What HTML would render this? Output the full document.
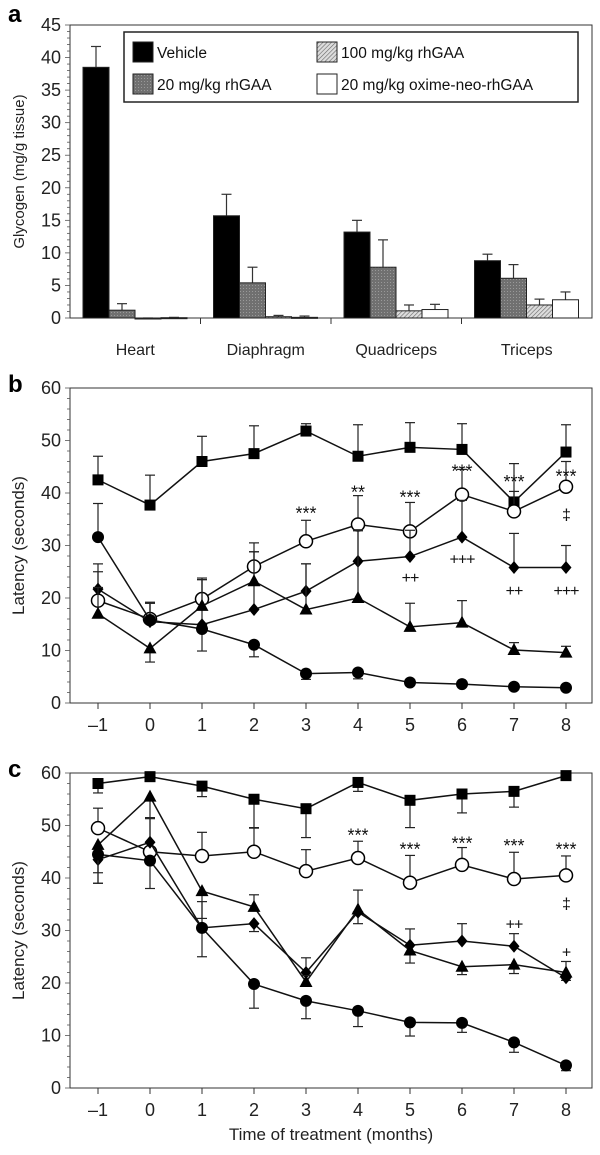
<!DOCTYPE html>
<html><head><meta charset="utf-8"><style>
html,body{margin:0;padding:0;background:#fff;}
svg{display:block;font-family:"Liberation Sans",Arial,sans-serif;}
</style></head><body>
<svg id="fig" width="600" height="1155" viewBox="0 0 600 1155" xmlns="http://www.w3.org/2000/svg">
<defs>
<pattern id="hatch" width="3" height="3" patternUnits="userSpaceOnUse" patternTransform="rotate(45)"><rect width="3" height="3" fill="#ddd"/><line x1="0" y1="0" x2="0" y2="3" stroke="#666" stroke-width="1.2"/></pattern>
<pattern id="dots" width="3" height="3" patternUnits="userSpaceOnUse"><rect width="3" height="3" fill="#707070"/><rect width="1" height="1" fill="#999"/></pattern>
</defs>
<g id="pa"></g>
<g id="pb"></g>
<g id="pc"></g>
</svg>
<script>
// Panel a data
const tissues = ["Heart","Diaphragm","Quadriceps","Triceps"];
const barSeries = ["Vehicle","20 mg/kg rhGAA","100 mg/kg rhGAA","20 mg/kg oxime-neo-rhGAA"];
const vehicleVals = [38.5,15.7,13.2,8.8];
const vehicleErr = [41.7,19.0,15.0,9.8];
const rh20Vals = [1.2,5.4,7.8,6.1];
const rh20Err = [2.2,7.8,12.0,8.2];
const rh100Vals = [-0.1,0.2,1.1,2.0];
const rh100Err = [0,0.4,2.0,2.9];
const oximeVals = [0.05,0.1,1.3,2.8];
const oximeErr = [0.1,0.3,2.1,4.0];
const aTicks = [0,5,10,15,20,25,30,35,40,45];

// Panels b & c shared
const months = [-1,0,1,2,3,4,5,6,7,8];
const latTicks = [0,10,20,30,40,50,60];
// Panel b
const bSquare = [42.5,37.7,46,47.5,51.8,47,48.7,48.3,38.3,47.8];
const bSquareErr = [4.5,5.7,4.8,5.3,1.4,6,4.7,4.9,7.3,5.2];
const bOpen = [19.5,16,19.8,26,30.8,34,32.7,39.7,36.5,41.2];
const bOpenErr = [7,3,3.7,4.5,4,5.5,5.5,4.8,3.8,4.8];
const bDiamond = [21.7,15.5,14.9,17.8,21.3,27,27.9,31.6,25.8,25.8];
const bDiamondErr = [3.3,3.5,8.9,11,5.2,6,5,7,6.5,4.2];
const bTri = [17,10.4,18.5,23.2,17.8,20,14.5,15.3,10.1,9.6];
const bTriErr = [5,-2.6,5,5.6,8.7,12.8,4.5,4.2,1.4,1.2];
const bCircle = [31.6,15.8,14.1,11.1,5.6,5.8,3.9,3.6,3.1,2.9];
const bCircleErr = [6.4,3.4,-4.2,-2.3,-1.1,-1.2,0,0,0,0];
const bAnnotText = ["***","**","***","***","***","***","‡","++","+++","++","+++"];
const bAnnotX = [3,4,5,6,7,8,8,5,6,7,8];
const bAnnotY = [36.5,40.5,39.5,44.5,42.5,43.5,36,24,27.5,21.5,21.5];
// Panel c
const cSquare = [58,59.3,57.5,55,53.2,58.2,54.8,56,56.5,59.5];
const cSquareErr = [-1.8,0,-2,-5.5,-5.5,-1.7,-5.2,-3.6,-3,0];
const cOpen = [49.5,45,44.2,45,41.3,43.8,39.1,42.5,39.8,40.5];
const cOpenErr = [3.8,6.5,4.5,4.6,4.1,3.2,5.2,3.3,5.1,3.7];
const cDiamond = [43.5,46.8,30.5,31.3,22,33.5,27.2,28,27,21];
const cDiamondErr = [-4.5,4.5,5,-1.5,2.8,-2.2,3.1,3.3,2.4,-0.5];
const cTri = [46.3,55.5,37.5,34.5,20.2,34,26.2,23.1,23.5,22];
const cTriErr = [-5.3,-4,-5.2,2.3,1.2,3.7,-2.4,-1.5,-1.7,2.1];
const cCircle = [44.5,43.3,30.5,19.8,16.6,14.7,12.5,12.4,8.7,4.3];
const cCircleErr = [-5.5,-5.3,-5.5,-4.6,-3.4,-3,-2.6,-1.8,-1.9,-1];
const cAnnotText = ["***","***","***","***","***","‡","++","+"];
const cAnnotX = [4,5,6,7,8,8,7,8];
const cAnnotY = [48.5,45.8,47,46.5,45.8,35.2,31.3,26];

const NS="http://www.w3.org/2000/svg";
function mk(parent,tag,attrs,text){const e=document.createElementNS(NS,tag);for(const k in attrs)e.setAttribute(k,attrs[k]);if(text!==undefined)e.textContent=text;parent.appendChild(e);return e;}

// ---------- Panel A ----------
(function(){
  const g=document.getElementById('pa');
  const L=70,R=592,T=25,B=318;
  const y=v=>B-(v/45)*(B-T);
  const fr=mk(g,'rect',{x:L,y:T,width:R-L,height:B-T,fill:'none',stroke:'#333','stroke-width':1});
  
  for(let v=0;v<=45;v++){mk(g,'line',{x1:L-(v%5===0?5:3),x2:L,y1:y(v),y2:y(v),stroke:'#555','stroke-width':0.8});}
  aTicks.forEach(v=>{const t=mk(g,'text',{x:L-9,y:y(v)+6,'text-anchor':'end','font-size':18,fill:'#222'},String(v));
    });
  const yt=mk(g,'text',{x:0,y:0,transform:`translate(24,${(T+B)/2}) rotate(-90)`,'text-anchor':'middle','font-size':15,fill:'#222'},'Glycogen (mg/g tissue)');
  
  const pl=mk(g,'text',{x:8,y:22,'font-size':24,'font-weight':'bold'},'a');
  
  const gw=(R-L)/4, bw=26;
  const vals=[vehicleVals,rh20Vals,rh100Vals,oximeVals], errs=[vehicleErr,rh20Err,rh100Err,oximeErr];
  const fills=['#000','url(#dots)','url(#hatch)','#fff'];
  tissues.forEach((name,i)=>{
    const gx=L+gw*i;
    if(i>0) mk(g,'line',{x1:gx,x2:gx,y1:B,y2:B+6,stroke:'#333'});
    const tl=mk(g,'text',{x:gx+gw/2,y:B+37,'text-anchor':'middle','font-size':16,fill:'#222'},name);
    
    vals.forEach((arr,s)=>{
      const x=gx+13+s*bw, v=arr[i];
      const y1=Math.min(y(v),y(0)), h=Math.max(Math.abs(y(v)-y(0)),1);
      mk(g,'line',{x1:x+bw/2,x2:x+bw/2,y1:y(errs[s][i]),y2:y(v),stroke:'#333','stroke-width':1.2});
      mk(g,'line',{x1:x+bw/2-5,x2:x+bw/2+5,y1:y(errs[s][i]),y2:y(errs[s][i]),stroke:'#333','stroke-width':1.2});
      const r=mk(g,'rect',{x:x,y:y1,width:bw,height:h,fill:fills[s],stroke:'#222','stroke-width':1});
      
    });
  });
  const lg=mk(g,'g',{});
  
  mk(lg,'rect',{x:124,y:32,width:454,height:70,fill:'#fff',stroke:'#222','stroke-width':1.5});
  const pos=[[133,42],[133,74],[317,42],[317,74]];
  barSeries.forEach((n,s)=>{
    const e=mk(lg,'g',{});
    
    mk(e,'rect',{x:pos[s][0],y:pos[s][1],width:20,height:20,fill:fills[s],stroke:'#222'});
    mk(e,'text',{x:pos[s][0]+24,y:pos[s][1]+16,'font-size':15.5,fill:'#111'},n);
  });
})();

// ---------- Line panels ----------
function linePanel(id,T,B,label,series,annT,annX,annY,xTitle){
  const g=document.getElementById(id);
  const L=70,R=592;
  const x=m=>98+(m+1)*(566-98)/9;
  const y=v=>B-(v/60)*(B-T);
  const fr=mk(g,'rect',{x:L,y:T,width:R-L,height:B-T,fill:'none',stroke:'#333','stroke-width':1});
  
  for(let v=0;v<=60;v+=2){mk(g,'line',{x1:L-(v%10===0?5:3),x2:L,y1:y(v),y2:y(v),stroke:'#555','stroke-width':0.8});}
  latTicks.forEach(v=>{const t=mk(g,'text',{x:L-9,y:y(v)+6,'text-anchor':'end','font-size':18,fill:'#222'},String(v));
    });
  months.forEach(m=>{mk(g,'line',{x1:x(m),x2:x(m),y1:B,y2:B+6,stroke:'#333'});
    const t=mk(g,'text',{x:x(m),y:B+28,'text-anchor':'middle','font-size':18,fill:'#222'},m<0?'\u2013'+(-m):String(m));
    });
  const yt=mk(g,'text',{x:0,y:0,transform:`translate(24,${(T+B)/2}) rotate(-90)`,'text-anchor':'middle','font-size':17,fill:'#222'},'Latency (seconds)');
  
  const pl=mk(g,'text',{x:8,y:T+4,'font-size':24,'font-weight':'bold'},label);
  
  if(xTitle){const xt=mk(g,'text',{x:331,y:B+52,'text-anchor':'middle','font-size':17,fill:'#222'},xTitle);
    }
  series.forEach(s=>{
    const sg=mk(g,'g',{});
    
    s.vals.forEach((v,i)=>{const e=s.err[i];if(!e)return;const ye=y(v+e);
      mk(sg,'line',{x1:x(months[i]),x2:x(months[i]),y1:y(v),y2:ye,stroke:'#222','stroke-width':1.2});
      mk(sg,'line',{x1:x(months[i])-5,x2:x(months[i])+5,y1:ye,y2:ye,stroke:'#222','stroke-width':1.2});});
    mk(sg,'polyline',{points:s.vals.map((v,i)=>x(months[i])+','+y(v)).join(' '),fill:'none',stroke:'#111','stroke-width':1.5});
    s.vals.forEach((v,i)=>{const cx=x(months[i]),cy=y(v);let m;
      if(s.shape==='square')m=mk(sg,'rect',{x:cx-5.5,y:cy-5.5,width:11,height:11,fill:'#000'});
      else if(s.shape==='open')m=mk(sg,'circle',{cx:cx,cy:cy,r:6.5,fill:'#fff',stroke:'#000','stroke-width':1.5});
      else if(s.shape==='circle')m=mk(sg,'circle',{cx:cx,cy:cy,r:6,fill:'#000'});
      else if(s.shape==='diamond')m=mk(sg,'polygon',{points:`${cx},${cy-6.5} ${cx+5.5},${cy} ${cx},${cy+6.5} ${cx-5.5},${cy}`,fill:'#000'});
      else m=mk(sg,'polygon',{points:`${cx},${cy-7} ${cx+6.5},${cy+5} ${cx-6.5},${cy+5}`,fill:'#000'});
      });
  });
  annT.forEach((t,i)=>{const isStar=t.indexOf('*')>=0;
    const a=mk(g,'text',{x:x(annX[i]),y:y(annY[i])+(isStar?8:6),'text-anchor':'middle','font-size':isStar?18:16,'letter-spacing':isStar?0:-1,fill:'#111'},t);
    });
}
linePanel('pb',388,703,'b',[
 {name:'wildtype',shape:'square',vals:bSquare,err:bSquareErr},
 {name:'oxime-neo-rhgaa',shape:'open',vals:bOpen,err:bOpenErr},
 {name:'rhgaa-100',shape:'diamond',vals:bDiamond,err:bDiamondErr},
 {name:'rhgaa-20',shape:'triangle',vals:bTri,err:bTriErr},
 {name:'vehicle',shape:'circle',vals:bCircle,err:bCircleErr}],bAnnotText,bAnnotX,bAnnotY,null);
linePanel('pc',773,1088,'c',[
 {name:'wildtype',shape:'square',vals:cSquare,err:cSquareErr},
 {name:'oxime-neo-rhgaa',shape:'open',vals:cOpen,err:cOpenErr},
 {name:'rhgaa-100',shape:'diamond',vals:cDiamond,err:cDiamondErr},
 {name:'rhgaa-20',shape:'triangle',vals:cTri,err:cTriErr},
 {name:'vehicle',shape:'circle',vals:cCircle,err:cCircleErr}],cAnnotText,cAnnotX,cAnnotY,'Time of treatment (months)');
</script>
</body></html>
